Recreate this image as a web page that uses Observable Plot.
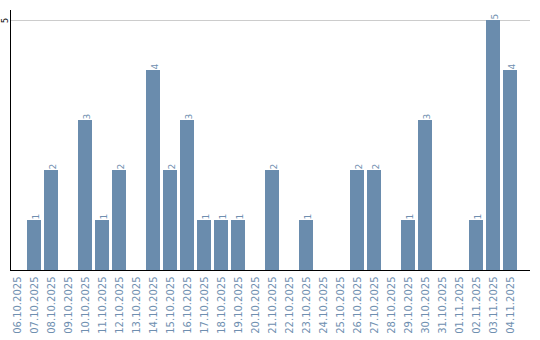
<!DOCTYPE html>
<html>
<head>
<meta charset="utf-8">
<script src="https://cdn.jsdelivr.net/npm/d3@7"></script>
<script src="https://cdn.jsdelivr.net/npm/@observablehq/plot@0.6"></script>
<style>
  html, body { margin: 0; padding: 0; background: #fff; }
  #chart svg { display: block; font-family: "DejaVu Sans", Verdana, sans-serif; }
</style>
</head>
<body>
<div id="chart"></div>
<script>
const dates = ["06.10.2025","07.10.2025","08.10.2025","09.10.2025","10.10.2025","11.10.2025","12.10.2025","13.10.2025","14.10.2025","15.10.2025","16.10.2025","17.10.2025","18.10.2025","19.10.2025","20.10.2025","21.10.2025","22.10.2025","23.10.2025","24.10.2025","25.10.2025","26.10.2025","27.10.2025","28.10.2025","29.10.2025","30.10.2025","31.10.2025","01.11.2025","02.11.2025","03.11.2025","04.11.2025"];
const counts = [0,1,2,0,3,1,2,0,4,2,3,1,1,1,0,2,0,1,0,0,2,2,0,1,3,0,0,1,5,4];
const yTicks = [5];

const data = dates.map((d, i) => ({date: d, count: counts[i]}));
const nonZero = data.filter(d => d.count > 0);
const barColor = "#6a8cad";
const textColor = "#6f8fb0";

const chart = Plot.plot({
  width: 540,
  height: 340,
  marginLeft: 10,
  marginRight: 10,
  marginTop: 10,
  marginBottom: 70,
  style: {fontFamily: "DejaVu Sans, Verdana, sans-serif", background: "#fff"},
  x: {domain: dates, range: [10, 516.94], paddingInner: 0.18, paddingOuter: 0, align: 0, label: null},
  y: {domain: [0, 5.2], label: null},
  marks: [
    Plot.ruleY(yTicks, {stroke: "#cccccc", strokeWidth: 1}),
    Plot.barY(data, {x: "date", y: "count", fill: barColor}),
    Plot.text(nonZero, {x: "date", y: "count", text: d => String(d.count), rotate: -90, textAnchor: "start", dx: 2, dy: -1, fill: textColor, fontSize: 9}),
    Plot.axisX({tickSize: 0, tickPadding: 6, tickRotate: -90, fontSize: 10, fill: textColor, label: null}),
    Plot.axisY({ticks: yTicks, tickFormat: "d", tickSize: 0, tickPadding: 3, tickRotate: -90, fontSize: 8, fill: "#000", label: null}),
    Plot.ruleY([0], {stroke: "#000", strokeWidth: 1}),
    Plot.frame({anchor: "left", stroke: "#000", strokeWidth: 1})
  ]
});
document.getElementById("chart").appendChild(chart);
</script>
</body>
</html>
